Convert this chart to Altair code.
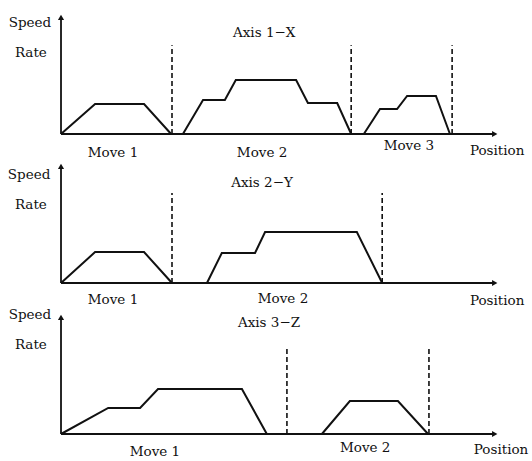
import altair as alt
import pandas as pd

# Shared position scale (0 = speed axis, 100 = end of the position arrow)
X_DOMAIN = [-13.96, 107.78]
SPEED_UNIT_PX = 12.0
FONT = "DejaVu Serif"
INK = "#111111"

# ---------------- Axis 1 - X ----------------
AXIS1_MOVE = ["Move 1"] * 4 + ["Move 2"] * 8 + ["Move 3"] * 6
AXIS1_POS = [0, 7.8, 19.0, 25.2,
             27.9, 32.5, 37.5, 40.0, 53.8, 56.5, 63.2, 66.4,
             69.3, 73.0, 76.9, 79.2, 85.8, 89.0]
AXIS1_SPEED = [0, 2.5, 2.5, 0,
               0, 2.83, 2.83, 4.5, 4.5, 2.58, 2.58, 0,
               0, 2.08, 2.08, 3.17, 3.17, 0]
AXIS1_BOUNDS = [25.4, 66.4, 89.5]
AXIS1_BOUND_TOP = 7.4
AXIS1_TEXT = ["Speed", "Rate", "Axis 1−X", "Move 1", "Move 2", "Move 3", "Position"]
AXIS1_TEXT_X = [-7.1, -6.9, 46.5, 11.9, 46.0, 79.6, 99.8]
AXIS1_TEXT_Y = [9.25, 6.75, 8.4, -1.58, -1.58, -1.0, -1.42]

# ---------------- Axis 2 - Y ----------------
AXIS2_MOVE = ["Move 1"] * 4 + ["Move 2"] * 6
AXIS2_POS = [0, 7.8, 19.0, 25.4,
             33.4, 36.8, 44.4, 46.7, 67.7, 73.5]
AXIS2_SPEED = [0, 2.58, 2.58, 0,
               0, 2.5, 2.5, 4.25, 4.25, 0]
AXIS2_BOUNDS = [25.4, 73.5]
AXIS2_BOUND_TOP = 7.5
AXIS2_TEXT = ["Speed", "Rate", "Axis 2−Y", "Move 1", "Move 2", "Position"]
AXIS2_TEXT_X = [-7.3, -6.9, 46.0, 11.9, 50.8, 99.8]
AXIS2_TEXT_Y = [9.0, 6.5, 8.33, -1.42, -1.33, -1.5]

# ---------------- Axis 3 - Z ----------------
AXIS3_MOVE = ["Move 1"] * 6 + ["Move 2"] * 4
AXIS3_POS = [0, 10.8, 18.1, 22.2, 41.4, 47.1,
             59.7, 66.1, 77.1, 84.0]
AXIS3_SPEED = [0, 2.17, 2.17, 3.75, 3.75, 0,
               0, 2.75, 2.75, 0]
AXIS3_BOUNDS = [51.7, 84.2]
AXIS3_BOUND_TOP = 7.25
AXIS3_TEXT = ["Speed", "Rate", "Axis 3−Z", "Move 1", "Move 2", "Position"]
AXIS3_TEXT_X = [-7.1, -6.9, 47.6, 21.5, 69.6, 100.7]
AXIS3_TEXT_Y = [9.92, 7.42, 9.25, -1.5, -1.17, -1.33]

# Axis arrows (speed axis up to 10, position axis out to 100)
SPEED_AXIS_TOP = 10.0
POSITION_AXIS_END = 100.0


def panel(moves, pos, speed, bounds, bound_top, texts, tx, ty,
          height, baseline_px):
    y_domain = [(baseline_px - height) / SPEED_UNIT_PX, baseline_px / SPEED_UNIT_PX]
    xs = alt.Scale(domain=X_DOMAIN, nice=False, zero=False)
    ys = alt.Scale(domain=y_domain, nice=False, zero=False)

    profile = pd.DataFrame({"move": moves, "pos": pos, "speed": speed,
                            "order": list(range(len(pos)))})
    axes = pd.DataFrame({"x": [0, 0], "x2": [0, POSITION_AXIS_END - 0.8],
                         "y": [0, 0], "y2": [SPEED_AXIS_TOP - 0.3, 0]})
    heads = pd.DataFrame({"x": [0, POSITION_AXIS_END - 0.75],
                          "y": [SPEED_AXIS_TOP - 0.28, 0],
                          "shape": ["triangle-up", "triangle-right"]})
    dividers = pd.DataFrame({"x": bounds, "y": [0] * len(bounds),
                             "y2": [bound_top] * len(bounds)})
    labels = pd.DataFrame({"text": texts, "x": tx, "y": ty})

    axis_lines = alt.Chart(axes).mark_rule(color=INK, strokeWidth=1.8).encode(
        x=alt.X("x:Q", scale=xs, axis=None), x2="x2:Q",
        y=alt.Y("y:Q", scale=ys, axis=None), y2="y2:Q")
    arrow_heads = alt.Chart(heads).mark_point(
        filled=True, color=INK, opacity=1, size=38).encode(
        x=alt.X("x:Q", scale=xs, axis=None),
        y=alt.Y("y:Q", scale=ys, axis=None),
        shape=alt.Shape("shape:N", scale=None, legend=None))
    move_dividers = alt.Chart(dividers).mark_rule(
        color=INK, strokeWidth=1.6, strokeDash=[5, 3]).encode(
        x=alt.X("x:Q", scale=xs, axis=None),
        y=alt.Y("y:Q", scale=ys, axis=None), y2="y2:Q")
    speed_profile = alt.Chart(profile).mark_line(
        color=INK, strokeWidth=2, strokeJoin="miter").encode(
        x=alt.X("pos:Q", scale=xs, axis=None),
        y=alt.Y("speed:Q", scale=ys, axis=None),
        detail="move:N", order="order:Q")
    text = alt.Chart(labels).mark_text(
        font=FONT, fontSize=13.5, color=INK, align="center", baseline="middle").encode(
        x=alt.X("x:Q", scale=xs, axis=None),
        y=alt.Y("y:Q", scale=ys, axis=None),
        text="text:N")

    return alt.layer(axis_lines, move_dividers, speed_profile, arrow_heads, text).properties(
        width=532, height=height)


p1 = panel(AXIS1_MOVE, AXIS1_POS, AXIS1_SPEED, AXIS1_BOUNDS, AXIS1_BOUND_TOP,
           AXIS1_TEXT, AXIS1_TEXT_X, AXIS1_TEXT_Y, height=160, baseline_px=134)
p2 = panel(AXIS2_MOVE, AXIS2_POS, AXIS2_SPEED, AXIS2_BOUNDS, AXIS2_BOUND_TOP,
           AXIS2_TEXT, AXIS2_TEXT_X, AXIS2_TEXT_Y, height=148, baseline_px=123)
p3 = panel(AXIS3_MOVE, AXIS3_POS, AXIS3_SPEED, AXIS3_BOUNDS, AXIS3_BOUND_TOP,
           AXIS3_TEXT, AXIS3_TEXT_X, AXIS3_TEXT_Y, height=153, baseline_px=126)

chart = alt.vconcat(p1, p2, p3, spacing=0, bounds="flush").properties(
    padding=0, background="white").configure_view(stroke=None)

chart.save("out.html", embed_options={"renderer": "svg", "actions": False})
